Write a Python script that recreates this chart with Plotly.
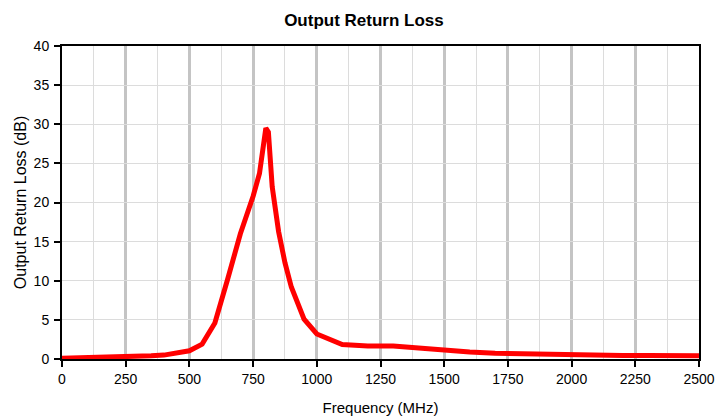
import plotly.graph_objects as go

freq_mhz = [0, 50, 100, 150, 200, 250, 300, 350, 400, 450, 500, 550, 600, 650, 700,
            750, 775, 800, 810, 825, 850, 875, 900, 950, 1000, 1100, 1200, 1300, 1400,
            1500, 1600, 1700, 1800, 1900, 2000, 2100, 2200, 2300, 2400, 2500]
return_loss_db = [0.1, 0.12, 0.15, 0.18, 0.2, 0.25, 0.3, 0.4, 0.5, 0.7, 1.05, 1.9, 4.6, 10.2, 16.0,
                  20.8, 23.7, 29.5, 29.0, 22.0, 16.3, 12.3, 9.2, 5.1, 3.2, 1.85, 1.65, 1.65, 1.38,
                  1.15, 0.88, 0.74, 0.65, 0.56, 0.52, 0.47, 0.45, 0.44, 0.43, 0.43]

x_ticks = [0, 250, 500, 750, 1000, 1250, 1500, 1750, 2000, 2250, 2500]
y_ticks = [0, 5, 10, 15, 20, 25, 30, 35, 40]

font = "Arial, Liberation Sans, sans-serif"

fig = go.Figure()
fig.add_trace(go.Scatter(x=freq_mhz, y=return_loss_db, mode="lines",
                         line=dict(color="#ff0000", width=5), showlegend=False))

fig.update_layout(
    width=715, height=419,
    margin=dict(l=62, r=16, t=46, b=60),
    paper_bgcolor="white", plot_bgcolor="white",
    font=dict(family=font, size=14, color="black"),
    title=dict(text="<b>Output Return Loss</b>", x=0.509, xanchor="center", y=0.952, yanchor="middle",
               font=dict(family=font, size=17, color="black")),
)
fig.update_xaxes(
    range=[0, 2500], tickvals=x_ticks, ticktext=[str(v) for v in x_ticks],
    showgrid=True, gridcolor="#c4c4c4", gridwidth=3,
    minor=dict(dtick=125, tick0=0, showgrid=True, gridcolor="#dcdcdc", gridwidth=1),
    showline=True, linecolor="black", linewidth=2, mirror=True,
    ticks="outside", ticklen=6, tickcolor="black", tickwidth=2,
    zeroline=False, automargin=False, ticklabeloverflow="allow",
    title=dict(text="Frequency (MHz)", font=dict(size=15), standoff=17),
    tickfont=dict(size=14),
)
fig.update_yaxes(
    range=[0, 40], tickvals=y_ticks, ticktext=[str(v) for v in y_ticks],
    showgrid=True, gridcolor="#dcdcdc", gridwidth=1,
    showline=True, linecolor="black", linewidth=2, mirror=True,
    ticks="outside", ticklen=6, tickcolor="black", tickwidth=2,
    zeroline=False, ticklabelstandoff=2, automargin=False,
    title=dict(text="Output Return Loss (dB)", font=dict(size=16), standoff=3),
    tickfont=dict(size=14),
)

fig.write_html("out.html", config={"displayModeBar": False},
               post_script="document.body.style.margin='0';document.body.style.overflow='hidden';")
